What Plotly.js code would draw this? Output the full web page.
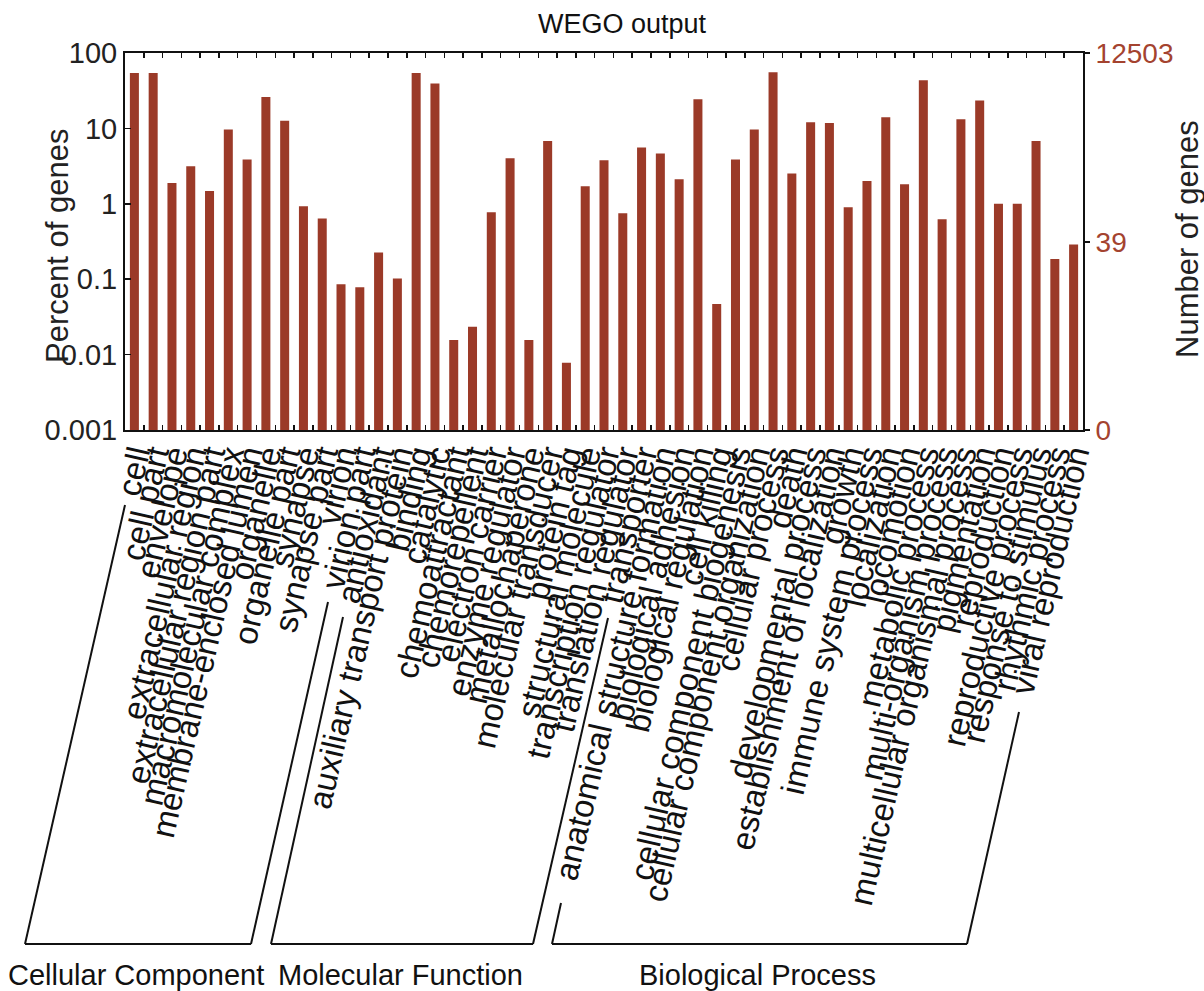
<!DOCTYPE html>
<html>
<head>
<meta charset="utf-8">
<script src="https://cdn.plot.ly/plotly-3.0.1.min.js"></script>
<style>html,body{margin:0;padding:0;background:#fff;}#chart{width:1204px;height:991px;}</style>
</head>
<body>
<div id="chart"></div>
<script>
// ---- data ----
const categories = [
  "cell","cell part","envelope","extracellular region","extracellular region part",
  "macromolecular complex","membrane-enclosed lumen","organelle","organelle part",
  "synapse","synapse part","virion","virion part",
  "antioxidant","auxiliary transport protein","binding","catalytic","chemoattractant",
  "chemorepellent","electron carrier","enzyme regulator","metallochaperone",
  "molecular transducer","protein tag","structural molecule","transcription regulator",
  "translation regulator","transporter",
  "anatomical structure formation","biological adhesion","biological regulation",
  "cell killing","cellular component biogenesis","cellular component organization",
  "cellular process","death","developmental process","establishment of localization",
  "growth","immune system process","localization","locomotion","metabolic process",
  "multi-organism process","multicellular organismal process","pigmentation",
  "reproduction","reproductive process","response to stimulus","rhythmic process",
  "viral reproduction"
];
const percentOfGenes = [
  54.3, 54.3, 1.89, 3.15, 1.48, 9.66, 3.87, 26.1, 12.6, 0.93, 0.64, 0.086, 0.078,
  0.226, 0.102, 54.3, 39.3, 0.0156, 0.0234, 0.774, 4.03, 0.0156, 6.82, 0.0078, 1.71, 3.78, 0.75, 5.57,
  4.64, 2.12, 24.3, 0.0468, 3.87, 9.66, 55.5, 2.52, 12.1, 11.8, 0.90, 2.0, 14.1, 1.82, 43.5,
  0.625, 13.2, 23.4, 1.0, 1.0, 6.82, 0.186, 0.289
];
const totalGenes = 12503;
const leftTickValues = [0.001, 0.01, 0.1, 1, 10, 100];
const leftTickLabels = ["0.001", "0.01", "0.1", "1", "10", "100"];
const rightTickGenes = [0, 39, 12503];
const groupNames = ["Cellular Component", "Molecular Function", "Biological Process"];
const groupFirst = [0, 13, 28];
const groupLast = [12, 27, 50];

// ---- layout constants (pixels) ----
const W = 1204, H = 991;
const PL = 125, PR = 1083, PT = 53, PB = 430;
const pw = PR - PL, ph = PB - PT;
const yMin = 0.001;
const barColor = "#9b3a28";
const rightColor = "#a4432f";
const FONT = "Liberation Sans, Arial, Helvetica, sans-serif";

// helper: pixel -> paper coordinates
const xp = px => (px - PL) / pw;
const yp = py => (PB - py) / ph;

const rightTickVals = rightTickGenes.map(g => g === 0 ? yMin : g / totalGenes * 100);
const rightTickText = rightTickGenes.map(String);

// bracket geometry (pixel positions of label-parallel lines)
const bracketBottom = 944;
const brackets = [
  {lt: [125, 505], lb: 25,  rt: [328, 602], rb: 251},
  {lt: [343, 617], lb: 271, rt: [608, 618], rb: 533},
  {lt: [561, 903], lb: 552, rt: [1019, 712], rb: 967}
];
const groupLabelX = [136, 400, 757];
const groupLabelY = 975;

const shapes = [];
brackets.forEach(b => {
  const ln = {type: "line", xref: "paper", yref: "paper", line: {color: "#111", width: 2}};
  shapes.push(Object.assign({}, ln, {x0: xp(b.lt[0]), y0: yp(b.lt[1]), x1: xp(b.lb), y1: yp(bracketBottom)}));
  shapes.push(Object.assign({}, ln, {x0: xp(b.lb), y0: yp(bracketBottom), x1: xp(b.rb), y1: yp(bracketBottom)}));
  shapes.push(Object.assign({}, ln, {x0: xp(b.rb), y0: yp(bracketBottom), x1: xp(b.rt[0]), y1: yp(b.rt[1])}));
});

const annotations = groupNames.map((n, i) => ({
  text: n, xref: "paper", yref: "paper", x: xp(groupLabelX[i]), y: yp(groupLabelY),
  showarrow: false, xanchor: "center", yanchor: "middle",
  font: {family: FONT, size: 29, color: "#111"}
}));
annotations.push({
  text: "Percent of genes", xref: "paper", yref: "paper",
  x: xp(57), y: yp(246), textangle: -90, showarrow: false,
  xanchor: "center", yanchor: "middle", font: {family: FONT, size: 31, color: "#222"}
});
annotations.push({
  text: "Number of genes", xref: "paper", yref: "paper",
  x: xp(1187), y: yp(239), textangle: -90, showarrow: false,
  xanchor: "center", yanchor: "middle", font: {family: FONT, size: 31, color: "#222"}
});

const traces = [{
  type: "bar",
  x: categories,
  y: percentOfGenes,
  marker: {color: barColor, line: {width: 0}},
  hoverinfo: "x+y",
  showlegend: false
}, {
  // same values against the gene-count axis (invisible), so the right axis is drawn
  type: "scatter", mode: "markers",
  x: categories,
  y: percentOfGenes,
  yaxis: "y2",
  marker: {opacity: 0, size: 1},
  hoverinfo: "skip",
  showlegend: false
}];

const layout = {
  width: W, height: H,
  margin: {l: PL, r: W - PR, t: PT, b: H - PB, pad: 0},
  paper_bgcolor: "#fff", plot_bgcolor: "#fff",
  font: {family: FONT, color: "#111"},
  showlegend: false,
  bargap: 0.52,
  title: {text: "WEGO output", font: {family: FONT, size: 27, color: "#111"},
          x: xp(622), xref: "paper", xanchor: "center", y: 1 - 24 / H, yref: "container", yanchor: "middle"},
  xaxis: {
    type: "category", tickangle: -77, automargin: false,
    tickmode: "linear", tick0: 0, dtick: 1, ticklabelstandoff: -9,
    tickfont: {family: FONT, size: 33, color: "#111"},
    showline: true, linecolor: "#111", linewidth: 2, mirror: "ticks",
    ticks: "inside", tickson: "boundaries", ticklen: 5, tickwidth: 1.5, tickcolor: "#111",
    showgrid: false, zeroline: false, range: [-0.5, categories.length - 0.5]
  },
  yaxis: {
    type: "log", range: [Math.log10(yMin), 2], automargin: false,
    tickvals: leftTickValues, ticktext: leftTickLabels,
    tickfont: {family: FONT, size: 29, color: "#222"},
    showline: true, linecolor: "#111", linewidth: 2,
    ticks: "inside", ticklen: 6, tickwidth: 1.5, tickcolor: "#111",
    showgrid: false, zeroline: false
  },
  yaxis2: {
    type: "log", range: [Math.log10(yMin), 2], overlaying: "y", side: "right", automargin: false,
    tickvals: rightTickVals, ticktext: rightTickText,
    tickfont: {family: FONT, size: 28, color: rightColor},
    showline: true, linecolor: "#111", linewidth: 2,
    ticks: "outside", ticklen: 5, tickwidth: 1.5, tickcolor: "#111",
    showgrid: false, zeroline: false
  },
  shapes: shapes,
  annotations: annotations
};

Plotly.newPlot("chart", traces, layout, {displayModeBar: false, staticPlot: true});
</script>
</body>
</html>
